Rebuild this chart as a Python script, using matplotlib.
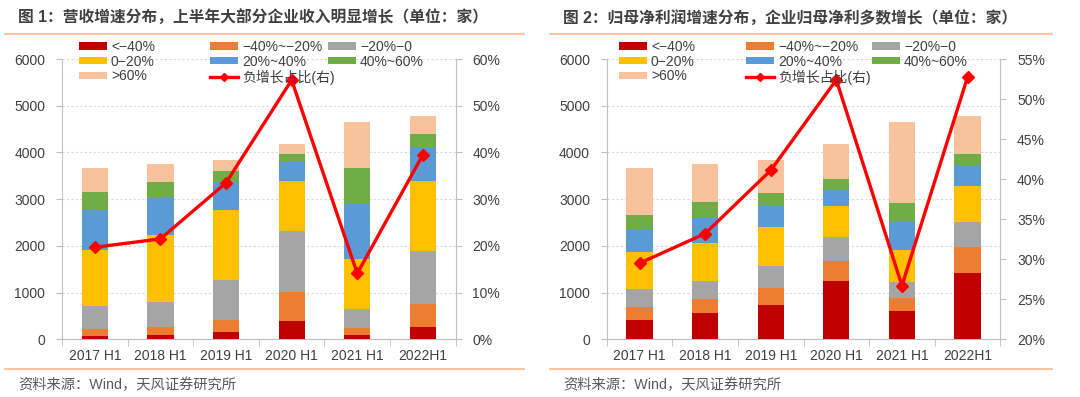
import numpy as np
import matplotlib
matplotlib.use('Agg')
from matplotlib import pyplot as plt
from matplotlib.patches import Patch
from matplotlib.lines import Line2D

plt.rcParams['font.family'] = ['Liberation Sans', 'Noto Sans CJK SC', 'DejaVu Sans']
plt.rcParams['axes.unicode_minus'] = False

periods = ['2017 H1', '2018 H1', '2019 H1', '2020 H1', '2021 H1', '2022H1']
bins = ['<−40%', '−40%~−20%', '−20%−0', '0−20%', '20%~40%', '40%~60%', '>60%']
line_label = '负增长占比(右)'

# 图1 营收增速分布 (家), 各区间公司数
rev_counts = [
    [80, 100, 156, 385, 100, 270],        # <-40%
    [135, 170, 257, 628, 150, 486],       # -40%~-20%
    [500, 530, 864, 1312, 405, 1128],     # -20%~0
    [1197, 1440, 1493, 1065, 1058, 1499], # 0~20%
    [858, 792, 605, 400, 1199, 735],      # 20%~40%
    [385, 336, 229, 172, 756, 278],       # 40%~60%
    [507, 379, 236, 220, 979, 392],       # >60%
]
rev_neg_share = [0.197, 0.215, 0.335, 0.555, 0.141, 0.395]

# 图2 归母净利润增速分布 (家)
np_counts = [
    [413, 570, 728, 1242, 606, 1420],
    [272, 300, 364, 428, 278, 556],
    [385, 372, 484, 527, 343, 542],
    [792, 820, 822, 664, 679, 765],
    [493, 557, 471, 351, 599, 443],
    [307, 314, 257, 214, 407, 248],
    [1000, 814, 714, 756, 1735, 814],
]
np_neg_share = [0.295, 0.332, 0.411, 0.524, 0.267, 0.5275]

colors = ['#C00000', '#ED7D31', '#A5A5A5', '#FFC000', '#5B9BD5', '#70AD47', '#F8C29C']
line_color = '#FF0000'
text_color = '#404040'
axis_color = '#BFBFBF'
sep_color = '#F8B88A'

fig = plt.figure(figsize=(10.8, 3.97), dpi=100)


def draw_panel(left, title, counts, share, rlim, rticks, title_x, sep_x0, sep_x1, leg_x):
    ax = fig.add_axes([left, 0.1453, 0.3645, 0.706])
    x = np.arange(len(periods))
    bottom = np.zeros(len(periods))
    for vals, c in zip(counts, colors):
        ax.bar(x, vals, 0.4, bottom=bottom, color=c, zorder=3)
        bottom += np.array(vals)
    ax.set_xlim(-0.5, len(periods) - 0.5)
    ax.set_ylim(0, 6000)
    ax.set_yticks(np.arange(0, 6001, 1000))
    ax.set_xticks(x)
    ax.set_xticklabels(periods)
    ax.set_xticks(np.arange(-0.5, len(periods), 1), minor=True)
    ax.tick_params(axis='x', which='major', length=0, pad=7, labelsize=10, labelcolor=text_color)
    ax.tick_params(axis='x', which='minor', length=5, color=axis_color)
    ax.tick_params(axis='y', length=4, color=axis_color, pad=8, labelsize=10, labelcolor=text_color)
    ax.grid(axis='y', color='#D9D9D9', linestyle=(0, (2, 2)), linewidth=0.8, zorder=0)
    for s in ['top', 'right']:
        ax.spines[s].set_visible(False)
    for s in ['left', 'bottom']:
        ax.spines[s].set_color(axis_color)

    ax2 = ax.twinx()
    ax2.plot(x, share, color=line_color, lw=2.4, marker='D', ms=6, zorder=5)
    ax2.set_ylim(*rlim)
    ax2.set_yticks(rticks)
    ax2.set_yticklabels(['{:.0f}%'.format(t * 100) for t in rticks])
    ax2.tick_params(axis='y', length=4, color=axis_color, pad=8, labelsize=10, labelcolor=text_color)
    for s in ['top', 'left', 'bottom']:
        ax2.spines[s].set_visible(False)
    ax2.spines['right'].set_color(axis_color)

    fig.text(title_x, 1 - 18 / 397, title, fontsize=11.3, fontweight='bold',
             color=text_color, va='center', ha='left')
    fig.add_artist(Line2D([sep_x0, sep_x1], [1 - 34 / 397] * 2, color=sep_color, lw=1.2))
    fig.add_artist(Line2D([sep_x0, sep_x1], [1 - 368.5 / 397] * 2, color=sep_color, lw=1.2))
    fig.text(title_x, 1 - 385 / 397, '资料来源：Wind，天风证券研究所', fontsize=10.3,
             color='#595959', va='center', ha='left')

    patches = [Patch(facecolor=c, edgecolor='none') for c in colors]
    line_h = Line2D([], [], color=line_color, lw=2.4, marker='D', ms=4)
    cols = [
        ([patches[0], patches[3], patches[6]], [bins[0], bins[3], bins[6]]),
        ([patches[1], patches[4], line_h], [bins[1], bins[4], line_label]),
        ([patches[2], patches[5]], [bins[2], bins[5]]),
    ]
    for lx, (h, l) in zip(leg_x, cols):
        leg = fig.legend(h, l, loc='upper left', bbox_to_anchor=(lx / 1080, 1 - 40 / 397),
                         frameon=False, fontsize=10, borderpad=0, borderaxespad=0,
                         handlelength=2.0, handleheight=0.45, handletextpad=0.3,
                         labelspacing=0.05)
        for t in leg.get_texts():
            t.set_color(text_color)


draw_panel(62 / 1080, '图 1：营收增速分布，上半年大部分企业收入明显增长（单位：家）',
           rev_counts, rev_neg_share, (0, 0.6), np.arange(0, 0.61, 0.1),
           18 / 1080, 5 / 1080, 524 / 1080, [79, 210, 328])
draw_panel(606.7 / 1080, '图 2：归母净利润增速分布，企业归母净利多数增长（单位：家）',
           np_counts, np_neg_share, (0.2, 0.55), np.arange(0.2, 0.551, 0.05),
           563 / 1080, 550 / 1080, 1052 / 1080, [619, 746, 872])

fig.savefig('out.png', dpi=100)
